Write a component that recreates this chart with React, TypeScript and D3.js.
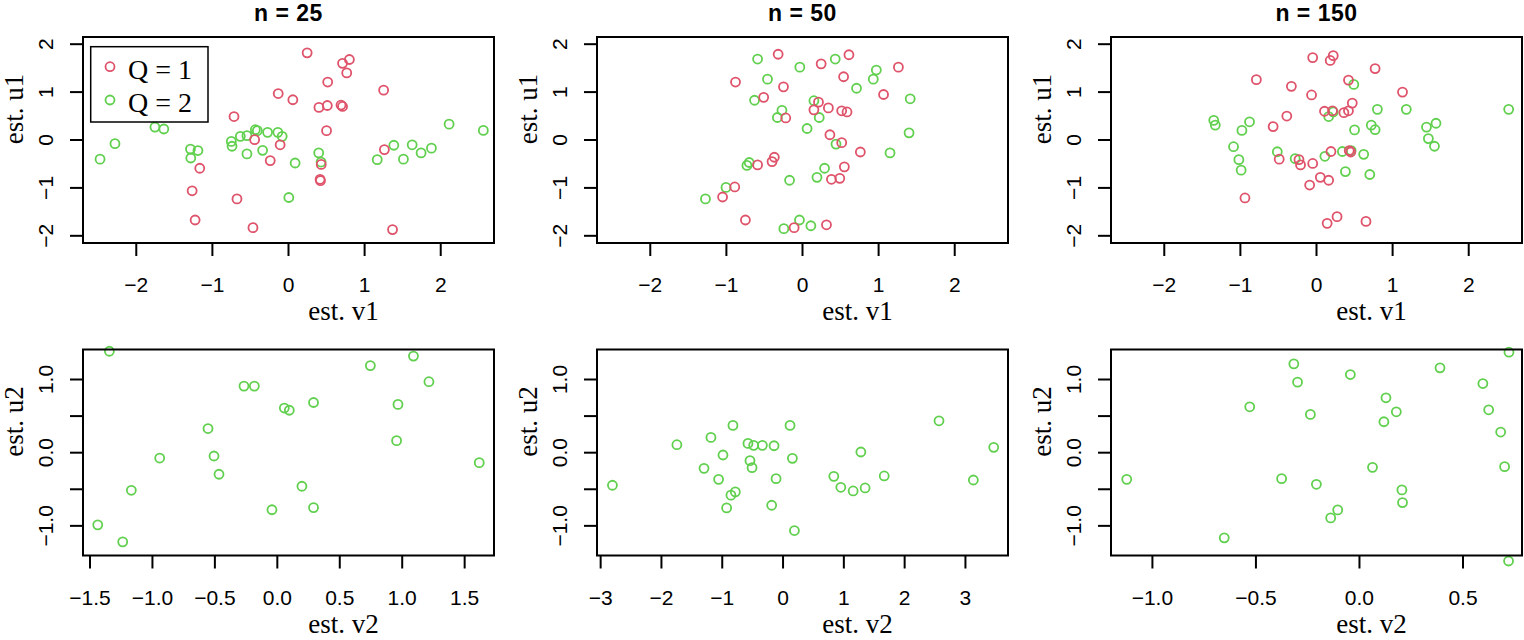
import React, { useEffect, useRef } from 'react';
import * as d3 from 'd3';

// top row: (est. v1, est. u1), red = Q 1, green = Q 2
const n25Q1: [number, number][] = [
  [0.245, 1.82], [0.71, 1.6], [0.8, 1.68], [0.765, 1.4], [0.515, 1.21], [1.25, 1.04], [-0.135, 0.97],
  [0.057, 0.84], [0.4, 0.68], [0.51, 0.72], [0.69, 0.73], [0.71, 0.7], [-0.716, 0.49], [0.5, 0.195],
  [-0.445, 0.007], [-0.11, -0.1], [1.26, -0.2], [-0.24, -0.43], [0.43, -0.51], [-1.166, -0.59],
  [0.415, -0.82], [0.42, -0.85], [-1.266, -1.06], [-0.677, -1.23], [-1.227, -1.67], [-0.467, -1.83], [1.367, -1.87]
];
const n25Q2: [number, number][] = [
  [-2.476, -0.4], [-2.28, -0.077], [-1.755, 0.27], [-1.638, 0.23], [-1.288, -0.19], [-1.19, -0.22],
  [-1.284, -0.376], [-0.751, -0.03], [-0.742, -0.13], [-0.633, 0.077], [-0.546, 0.09], [-0.546, -0.29],
  [-0.436, 0.215], [-0.41, 0.195], [-0.34, -0.216], [-0.275, 0.16], [-0.14, 0.16], [-0.083, 0.077],
  [0.087, -0.48], [0.004, -1.2], [0.397, -0.27], [0.428, -0.46], [1.166, -0.41], [1.384, -0.11],
  [1.51, -0.4], [1.625, -0.1], [1.742, -0.27], [1.878, -0.17], [2.11, 0.33], [2.56, 0.2]
];
const n50Q1: [number, number][] = [
  [-0.32, 1.79], [0.61, 1.78], [0.245, 1.59], [1.26, 1.52], [-0.88, 1.21], [0.54, 1.32], [-0.25, 1.11],
  [1.065, 0.95], [-0.51, 0.89], [0.21, 0.79], [0.15, 0.63], [0.34, 0.67], [0.515, 0.61], [0.585, 0.585],
  [-0.22, 0.46], [0.36, 0.11], [0.515, -0.056], [0.76, -0.25], [-0.37, -0.36], [-0.4, -0.45], [-0.59, -0.52],
  [0.55, -0.56], [0.38, -0.82], [0.49, -0.8], [-0.89, -0.98], [-1.05, -1.19], [-0.75, -1.67], [-0.11, -1.83], [0.315, -1.77]
];
const n50Q2: [number, number][] = [
  [-0.59, 1.69], [-0.035, 1.52], [0.43, 1.69], [0.97, 1.46], [0.93, 1.27], [-0.46, 1.27], [0.71, 1.08],
  [-0.63, 0.83], [1.415, 0.86], [0.15, 0.82], [-0.27, 0.62], [-0.33, 0.47], [0.22, 0.47], [0.06, 0.24],
  [1.4, 0.15], [0.44, -0.085], [1.15, -0.27], [-0.7, -0.47], [-0.73, -0.53], [0.29, -0.59], [0.19, -0.78],
  [-0.17, -0.84], [-1.005, -0.99], [-1.275, -1.23], [-0.04, -1.67], [-0.245, -1.85], [0.11, -1.79]
];
const n150Q1: [number, number][] = [
  [-0.05, 1.72], [0.22, 1.76], [0.18, 1.66], [0.77, 1.49], [-0.79, 1.26], [0.42, 1.25], [-0.33, 1.12],
  [-0.065, 0.94], [1.13, 1.0], [0.47, 0.77], [0.105, 0.6], [0.21, 0.61], [0.36, 0.57], [0.42, 0.61],
  [-0.39, 0.5], [-0.57, 0.28], [0.19, -0.24], [0.43, -0.22], [0.45, -0.25], [-0.49, -0.4], [-0.23, -0.41],
  [-0.21, -0.52], [-0.05, -0.49], [0.05, -0.78], [0.16, -0.84], [-0.09, -0.94], [-0.94, -1.21],
  [0.27, -1.6], [0.14, -1.74], [0.65, -1.7]
];
const n150Q2: [number, number][] = [
  [0.49, 1.16], [0.8, 0.64], [1.18, 0.64], [2.525, 0.64], [0.16, 0.49], [0.22, 0.585], [-1.35, 0.41],
  [-1.33, 0.31], [-0.88, 0.38], [-0.98, 0.2], [0.72, 0.31], [0.77, 0.215], [0.5, 0.21], [1.445, 0.27],
  [1.57, 0.35], [1.47, 0.03], [1.55, -0.13], [-1.09, -0.14], [-0.515, -0.245], [-0.28, -0.39], [0.11, -0.34],
  [0.34, -0.24], [0.455, -0.22], [0.62, -0.3], [-1.02, -0.41], [-0.99, -0.63], [0.38, -0.66], [0.7, -0.72]
];

// bottom row: (est. v2, est. u2), Q 2 only
const n25V2: [number, number][] = [
  [-1.345, 1.386], [1.09, 1.32], [0.745, 1.19], [1.214, 0.97], [-0.267, 0.91], [-0.184, 0.91], [0.29, 0.686],
  [0.056, 0.61], [0.096, 0.58], [0.966, 0.66], [-0.555, 0.33], [0.955, 0.164], [-0.942, -0.073],
  [-0.507, -0.045], [-0.467, -0.295], [1.617, -0.136], [-1.169, -0.514], [0.197, -0.459], [-0.043, -0.78],
  [0.29, -0.75], [-1.438, -0.986], [-1.238, -1.218]
];
const n50V2: [number, number][] = [
  [-2.806, -0.445], [-1.746, 0.109], [-1.186, 0.209], [-0.824, 0.373], [-1.3, -0.214], [-0.988, -0.032],
  [-1.06, -0.364], [-0.857, -0.58], [-0.785, -0.536], [-0.928, -0.755], [-0.577, 0.127], [-0.483, 0.1],
  [-0.34, 0.1], [-0.148, 0.095], [-0.544, -0.109], [-0.51, -0.205], [0.115, 0.373], [0.154, -0.077],
  [-0.115, -0.355], [-0.187, -0.718], [0.187, -1.064], [0.835, -0.323], [0.95, -0.473], [1.153, -0.523],
  [1.35, -0.482], [1.28, 0.009], [1.664, -0.318], [2.565, 0.436], [3.13, -0.373], [3.465, 0.073]
];
const n150V2: [number, number][] = [
  [-1.124, -0.364], [-0.653, -1.164], [-0.53, 0.627], [-0.376, -0.355], [-0.317, 1.214], [-0.299, 0.964],
  [-0.237, 0.523], [-0.208, -0.432], [-0.139, -0.891], [-0.105, -0.782], [-0.044, 1.068], [0.063, -0.2],
  [0.128, 0.75], [0.118, 0.423], [0.178, 0.559], [0.205, -0.509], [0.208, -0.682], [0.389, 1.159],
  [0.596, 0.945], [0.624, 0.586], [0.682, 0.282], [0.701, -0.191], [0.722, 1.373], [0.72, -1.48]
];

const titles = ['n = 25', 'n = 50', 'n = 150'];
const topTicks = [-2, -1, 0, 1, 2];
const bottomYTicks = [-1, -0.5, 0, 0.5, 1];
const bottomXTicks = [
  [-1.5, -1, -0.5, 0, 0.5, 1, 1.5],
  [-3, -2, -1, 0, 1, 2, 3],
  [-1, -0.5, 0, 0.5]
];
const bottomXDomains: [number, number][] = [[-1.556, 1.735], [-3.06, 3.7], [-1.2, 0.785]];
const legendLabels = ['Q = 1', 'Q = 2'];

const RED = '#DF536B';
const GREEN = '#61D04F';
const SANS = '"Liberation Sans", Arial, Helvetica, sans-serif';
const SERIF = '"Liberation Serif", "Times New Roman", serif';

const fmtMinus = (s: string) => s.replace('-', '\u2212');

const App = () => {
  const ref = useRef<SVGSVGElement>(null);

  useEffect(() => {
    const svg = d3.select(ref.current);
    svg.selectAll('*').remove();

    const lefts = [83, 597, 1111];
    const w = 411;
    const h = 206;
    const tops = [37, 349.5];

    const panel = (
      col: number, row: number,
      xDomain: [number, number], yDomain: [number, number],
      xTicks: number[], yTicks: number[],
      xFmt: (d: number) => string, yLabelled: (d: number) => boolean, yFmt: (d: number) => string,
      xlab: string, ylab: string,
      series: { pts: [number, number][]; color: string }[]
    ) => {
      const left = lefts[col];
      const top = tops[row];
      const x = d3.scaleLinear().domain(xDomain).range([left, left + w]);
      const y = d3.scaleLinear().domain(yDomain).range([top + h, top]);
      const g = svg.append('g');

      series.forEach(s => {
        g.selectAll(null)
          .data(s.pts)
          .enter()
          .append('circle')
          .attr('cx', d => x(d[0]))
          .attr('cy', d => y(d[1]))
          .attr('r', 4.5)
          .attr('fill', 'none')
          .attr('stroke', s.color)
          .attr('stroke-width', 1.8);
      });

      g.append('rect')
        .attr('x', left).attr('y', top)
        .attr('width', w).attr('height', h)
        .attr('fill', 'none').attr('stroke', '#000').attr('stroke-width', 2);

      // x axis
      g.selectAll(null).data(xTicks).enter().append('line')
        .attr('x1', d => x(d)).attr('x2', d => x(d))
        .attr('y1', top + h).attr('y2', top + h + 13)
        .attr('stroke', '#000').attr('stroke-width', 2);
      g.selectAll(null).data(xTicks).enter().append('text')
        .attr('x', d => x(d)).attr('y', top + h + 49)
        .attr('text-anchor', 'middle')
        .style('font-family', SANS).style('font-size', '21px')
        .text(d => xFmt(d));

      // y axis
      g.selectAll(null).data(yTicks).enter().append('line')
        .attr('x1', left - 13).attr('x2', left)
        .attr('y1', d => y(d)).attr('y2', d => y(d))
        .attr('stroke', '#000').attr('stroke-width', 2);
      g.selectAll(null).data(yTicks.filter(yLabelled)).enter().append('text')
        .attr('transform', d => `translate(${left - 30},${y(d)}) rotate(-90)`)
        .attr('text-anchor', 'middle')
        .style('font-family', SANS).style('font-size', '21px')
        .text(d => yFmt(d));

      g.append('text')
        .attr('x', left + w / 2 + 55).attr('y', top + h + 77)
        .attr('text-anchor', 'middle')
        .style('font-family', SERIF).style('font-size', '27px')
        .text(xlab);
      g.append('text')
        .attr('transform', `translate(${left - 60},${top + h / 2 - 31}) rotate(-90)`)
        .attr('text-anchor', 'middle')
        .style('font-family', SERIF).style('font-size', '27px')
        .text(ylab);
    };

    const intFmt = (d: number) => fmtMinus(d3.format('d')(d));
    const oneFmt = (d: number) => fmtMinus(d3.format('.1f')(d));

    const topData = [[n25Q1, n25Q2], [n50Q1, n50Q2], [n150Q1, n150Q2]];
    const bottomData = [n25V2, n50V2, n150V2];

    [0, 1, 2].forEach(c => {
      panel(c, 0, [-2.7, 2.7], [-2.15, 2.15], topTicks, topTicks, intFmt, () => true, intFmt,
        'est. v1', 'est. u1',
        [{ pts: topData[c][1], color: GREEN }, { pts: topData[c][0], color: RED }]);
      panel(c, 1, bottomXDomains[c], [-1.405, 1.41], bottomXTicks[c], bottomYTicks,
        c === 1 ? intFmt : oneFmt, d => Number.isInteger(d), oneFmt,
        'est. v2', 'est. u2',
        [{ pts: bottomData[c], color: GREEN }]);

      svg.append('text')
        .attr('x', lefts[c] + w / 2).attr('y', 21)
        .attr('text-anchor', 'middle')
        .style('font-family', SANS).style('font-size', '23px').style('font-weight', 'bold')
        .style('letter-spacing', '0.5px')
        .text(titles[c]);
    });

    // legend in the first panel
    const lg = svg.append('g');
    lg.append('rect')
      .attr('x', 90.7).attr('y', 46.7).attr('width', 117.3).attr('height', 75.3)
      .attr('fill', '#fff').attr('stroke', '#000').attr('stroke-width', 1.5);
    lg.selectAll(null).data(legendLabels).enter().append('circle')
      .attr('cx', 110).attr('cy', (d, i) => 66.7 + i * 33.3)
      .attr('r', 4.5).attr('fill', 'none')
      .attr('stroke', (d, i) => (i === 0 ? RED : GREEN)).attr('stroke-width', 1.8);
    lg.selectAll(null).data(legendLabels).enter().append('text')
      .attr('x', 128).attr('y', (d, i) => 78.7 + i * 33.3)
      .style('font-family', SERIF).style('font-size', '28px')
      .text(d => d);
  }, []);

  return (
    <svg ref={ref} width={1524} height={640}
      style={{ position: 'absolute', left: 0, top: 0, background: '#fff' }} />
  );
};

export default App;
